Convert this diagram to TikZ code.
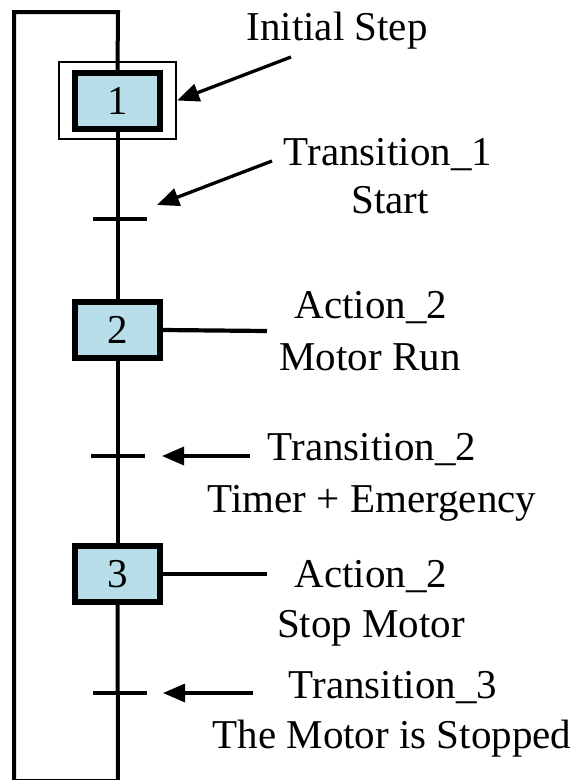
\documentclass[tikz,border=0pt]{standalone}
\usepackage{fontspec}
\setmainfont{Liberation Serif}
\usetikzlibrary{arrows.meta}
\definecolor{stepfill}{RGB}{183,221,232}
\begin{document}
\begin{tikzpicture}[x=1pt,y=-1pt,
  txt/.style={font=\fontsize{41}{41}\selectfont},
  stepbox/.style={txt,draw,line width=6pt,fill=stepfill,minimum width=85pt,
    minimum height=56pt,inner sep=0pt},
  initframe/.style={draw,line width=1.8pt,minimum width=117.5pt,
    minimum height=77.5pt,inner sep=0pt},
  flow/.style={line width=4pt},
  bar/.style={line width=4.2pt},
  callout/.style={line width=3.3pt,-{Triangle[length=22pt,width=18pt]}},
  lbl/.style={txt,anchor=base,inner sep=0pt}]
\useasboundingbox (0,0) rectangle (577,780);
\fill[white] (0,0) rectangle (577,780);

% steps
\node[initframe] (init) at (117.5,100.5) {};
\node[stepbox] (s1) at (117.5,101) {1};
\node[stepbox] (s2) at (117.5,330) {2};
\node[stepbox] (s3) at (117.5,574) {3};

% transitions and helper points
\coordinate (t1) at (119,219);
\coordinate (t2) at (118,456);
\coordinate (t3) at (119,693);
\coordinate (loopbr) at (118,781);
\coordinate (loopbl) at (14,781);
\coordinate (looptl) at (14,12);
\coordinate (looptr) at (118,12);

% main flow line with the return loop
\draw[flow] (s1.south) -- (s2.north);
\draw[flow] (s2.south) -- (s3.north);
\draw[flow] (s3.south) -- (loopbr) -- (loopbl) -- (looptl) -- (looptr) -- (s1.north);

% transition bars
\draw[bar] (t1) ++(-26,0) -- ++(54,0);
\draw[bar] (t2) ++(-27,0) -- ++(54,0);
\draw[bar] (t3) ++(-26,0) -- ++(54,0);

% action lines
\coordinate (a2) at (267,331);
\coordinate (a3) at (267,574);
\draw[bar] (s2.east) -- (a2);
\draw[bar] (s3.east) -- (a3);

% labels
\node[lbl] (linit) at (337,40) {Initial Step};
\node[lbl] (ltr1) at (388,165) {Transition\_1};
\node[lbl] (lstart) at (390,213) {Start};
\node[lbl] (lact2) at (371,318) {Action\_2};
\node[lbl] (lrun) at (370,370) {Motor Run};
\node[lbl] (ltr2) at (372,460) {Transition\_2};
\node[lbl] (ltimer) at (372,512) {Timer + Emergency};
\node[lbl] (lact3) at (371,587) {Action\_2};
\node[lbl] (lstop) at (371,637) {Stop Motor};
\node[lbl] (ltr3) at (393,698) {Transition\_3};
\node[lbl] (lstopped) at (392,748) {The Motor is Stopped};

% callout arrows
\coordinate (c1) at (291,57);
\coordinate (c2a) at (272,161);
\coordinate (c2b) at (157,205);
\coordinate (c3a) at (250,456);
\coordinate (c3b) at (162,456);
\coordinate (c4a) at (253,693);
\coordinate (c4b) at (163,693);
\draw[callout] (c1) -- (init.east);
\draw[callout] (c2a) -- (c2b);
\draw[callout] (c3a) -- (c3b);
\draw[callout] (c4a) -- (c4b);
\end{tikzpicture}
\end{document}
